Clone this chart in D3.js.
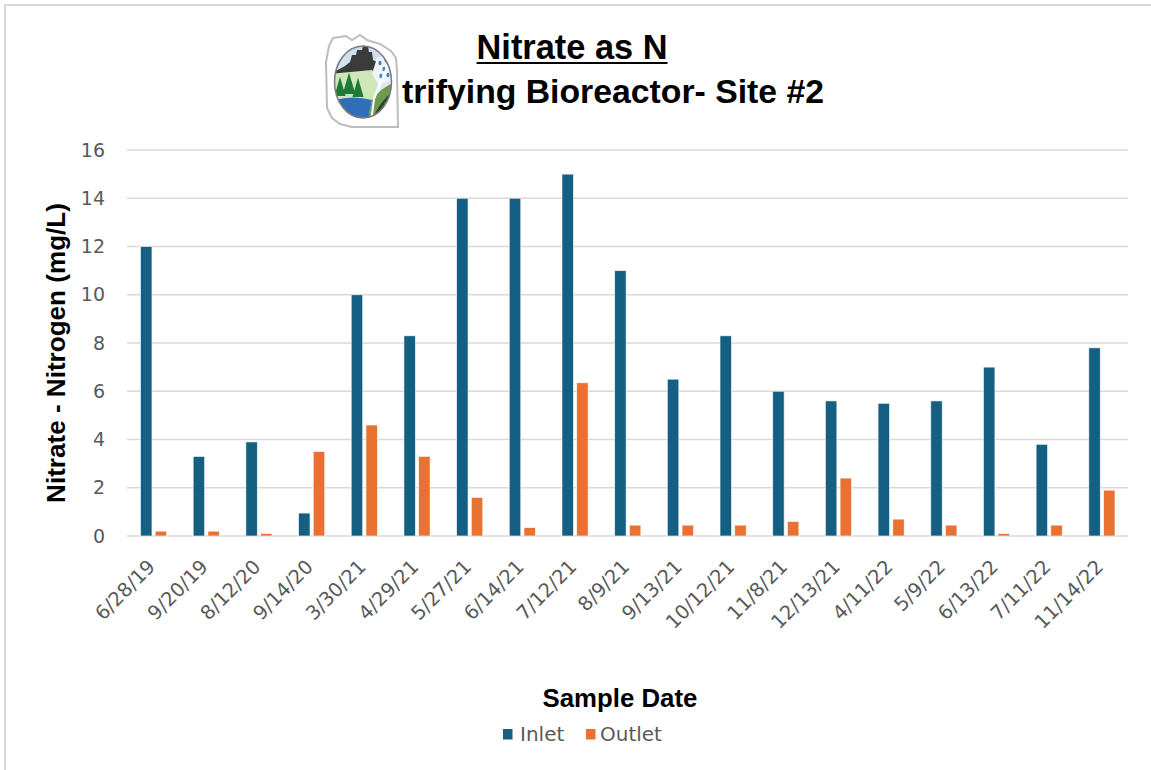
<!DOCTYPE html>
<html><head><meta charset="utf-8">
<script src="https://cdn.jsdelivr.net/npm/d3@7"></script>
<style>html,body{margin:0;padding:0;background:#fff;}svg{display:block;}</style>
</head><body>
<svg id="chart" width="1151" height="770"></svg>
<script>
// ---- data ----
const dates = ["6/28/19","9/20/19","8/12/20","9/14/20","3/30/21","4/29/21","5/27/21","6/14/21","7/12/21","8/9/21","9/13/21","10/12/21","11/8/21","12/13/21","4/11/22","5/9/22","6/13/22","7/11/22","11/14/22"];
const inlet  = [12, 3.3, 3.9, 0.95, 10, 8.3, 14, 14, 15, 11, 6.5, 8.3, 6, 5.6, 5.5, 5.6, 7, 3.8, 7.8];
const outlet = [0.2, 0.2, 0.1, 3.5, 4.6, 3.3, 1.6, 0.35, 6.35, 0.45, 0.45, 0.45, 0.6, 2.4, 0.7, 0.45, 0.1, 0.45, 1.9];
const seriesNames = ["Inlet", "Outlet"];
const yTicks = [0, 2, 4, 6, 8, 10, 12, 14, 16];
const titleLine1 = "Nitrate as N";
const titleLine2Hidden = "Deni";
const titleLine2 = "trifying Bioreactor- Site #2";
const yAxisTitle = "Nitrate - Nitrogen (mg/L)";
const xAxisTitle = "Sample Date";

const colors = {Inlet: "#156082", Outlet: "#E97132"};
const FONT = "'Liberation Sans', Arial, sans-serif";
const TFONT = "'DejaVu Sans', sans-serif";
const GRAY = "#595959";

const svg = d3.select("#chart");
svg.append("rect").attr("width", 1151).attr("height", 770).attr("fill", "#fff");
// chart border
svg.append("path").attr("d", "M5,770 L5,5 L1151,5").attr("fill", "none")
  .attr("stroke", "#d9d9d9").attr("stroke-width", 2);

const x = d3.scaleBand().domain(dates).range([127, 1128]).paddingInner(0).paddingOuter(0);
const bw = x.bandwidth();
const xi = d3.scaleBand().domain(seriesNames).range([bw * 0.256, bw * 0.753]).paddingInner(0.22);
const y = d3.scaleLinear().domain([0, 16]).range([536, 150]);

// gridlines
svg.append("g").selectAll("line").data(yTicks).join("line")
  .attr("x1", 127).attr("x2", 1128)
  .attr("y1", d => y(d)).attr("y2", d => y(d))
  .attr("stroke", "#d9d9d9").attr("stroke-width", 1.6);

// y tick labels via axis
const yAxis = svg.append("g").attr("transform", "translate(127,0)")
  .call(d3.axisLeft(y).tickValues(yTicks).tickSize(0).tickPadding(22));
yAxis.select(".domain").remove();
yAxis.selectAll("text").attr("fill", GRAY).attr("font-family", TFONT).attr("font-size", 19);

// bars
const rows = dates.map((d, i) => ({date: d, Inlet: inlet[i], Outlet: outlet[i]}));
const groups = svg.append("g").selectAll("g").data(rows).join("g")
  .attr("transform", d => `translate(${x(d.date)},0)`);
groups.selectAll("rect").data(d => seriesNames.map(s => ({s, v: d[s]}))).join("rect")
  .attr("x", d => xi(d.s)).attr("width", xi.bandwidth())
  .attr("y", d => y(d.v)).attr("height", d => y(0) - y(d.v))
  .attr("fill", d => colors[d.s])
  .attr("stroke", "rgba(255,255,255,0.75)").attr("stroke-width", 0.8);

// x tick labels
const xAxis = svg.append("g").attr("transform", "translate(0,536)")
  .call(d3.axisBottom(x).tickSize(0).tickPadding(0));
xAxis.select(".domain").remove();
xAxis.selectAll("text")
  .attr("fill", GRAY).attr("font-family", TFONT).attr("font-size", 19.5)
  .attr("text-anchor", "end").attr("dy", 0).attr("y", 0)
  .attr("transform", "translate(3,32) rotate(-45)");

function fit(sel, target) {
  const w = sel.node().getComputedTextLength();
  const fs = parseFloat(sel.attr("font-size"));
  sel.attr("font-size", fs * target / w);
}

// axis titles
const yt = svg.append("text").text(yAxisTitle)
  .attr("font-family", FONT).attr("font-weight", "bold").attr("font-size", 20).attr("fill", "#000")
  .attr("text-anchor", "middle").attr("transform", "translate(65,353) rotate(-90)");
fit(yt, 300);

const xt = svg.append("text").text(xAxisTitle)
  .attr("x", 620).attr("y", 707)
  .attr("font-family", FONT).attr("font-weight", "bold").attr("font-size", 20).attr("fill", "#000")
  .attr("text-anchor", "middle");
fit(xt, 155);

// legend
const legX = [503, 586];
const legT = [520, 600];
const leg = svg.append("g").selectAll("g").data(seriesNames).join("g");
leg.append("rect").attr("x", (d, i) => legX[i]).attr("y", 729).attr("width", 9.5).attr("height", 10.5).attr("fill", d => colors[d]);
leg.append("text").text(d => d).attr("x", (d, i) => legT[i]).attr("y", 741)
  .attr("font-family", TFONT).attr("font-size", 20).attr("fill", GRAY);

// titles
const t1 = svg.append("text").text(titleLine1)
  .attr("x", 572).attr("y", 59).attr("text-anchor", "middle")
  .attr("font-family", FONT).attr("font-weight", "bold").attr("font-size", 30).attr("fill", "#000");
fit(t1, 191);
const t1w = t1.node().getComputedTextLength();
svg.append("line").attr("x1", 572 - t1w / 2).attr("x2", 572 + t1w / 2)
  .attr("y1", 63).attr("y2", 63).attr("stroke", "#000").attr("stroke-width", 2.2);

const t2 = svg.append("text").text(titleLine2)
  .attr("x", 402).attr("y", 103)
  .attr("font-family", FONT).attr("font-weight", "bold").attr("font-size", 30).attr("fill", "#000");
fit(t2, 422);
svg.append("text").text(titleLine2Hidden)
  .attr("x", 400).attr("y", 103).attr("text-anchor", "end")
  .attr("font-family", FONT).attr("font-weight", "bold").attr("font-size", t2.attr("font-size")).attr("fill", "#000");

// logo (drawn over the start of the title)
const logo = svg.append("g");
logo.append("rect").attr("x", 322).attr("y", 70).attr("width", 78.5).attr("height", 45).attr("fill", "#fff");
logo.append("path")
  .attr("d", "M333,38 L346,36 L352,40 L360,35 L367,40 L380,44 L391,51 L396,58 L397,72 L398,127 L352,127 L340,124 L332,118 L327,108 L326,62 L329,46 Z")
  .attr("fill", "#fff").attr("stroke", "#bdbdbd").attr("stroke-width", 2);
const defs = svg.append("defs");
defs.append("clipPath").attr("id", "oval").append("ellipse")
  .attr("cx", 363).attr("cy", 82).attr("rx", 28.5).attr("ry", 36);
const sky = defs.append("linearGradient").attr("id", "sky").attr("x1", 0).attr("y1", 0).attr("x2", 0).attr("y2", 1);
sky.append("stop").attr("offset", 0).attr("stop-color", "#c9d9ea");
sky.append("stop").attr("offset", 1).attr("stop-color", "#f4f7fb");
const lg = logo.append("g").attr("clip-path", "url(#oval)");
lg.append("rect").attr("x", 330).attr("y", 40).attr("width", 70).attr("height", 90).attr("fill", "url(#sky)");
// dark skyline
lg.append("path").attr("d", "M334,72 L345,66 L350,62 L352,55 L356,55 L357,50 L362,50 L363,46 L368,46 L369,52 L372,52 L373,60 L377,62 L378,70 L372,74 L334,78 Z").attr("fill", "#3b3b3b");
// light green field
lg.append("path").attr("d", "M330,74 L372,70 L380,78 L372,100 L330,100 Z").attr("fill", "#cfe6b8");
// trees
[[340,96,8],[349,94,9],[358,97,8]].forEach(([cx, by, h]) => {
  lg.append("path").attr("d", `M${cx},${by - h * 2.4} L${cx + h * 0.7},${by} L${cx - h * 0.7},${by} Z`).attr("fill", "#1f7a3a");
});
// raindrops area
lg.append("path").attr("d", "M377,58 L394,52 L394,80 L378,84 L372,74 Z").attr("fill", "#eef4fa");
[[380,63],[386,60],[384,69],[390,67],[381,76],[388,75]].forEach(([cx, cy]) => {
  lg.append("ellipse").attr("cx", cx).attr("cy", cy).attr("rx", 1.6).attr("ry", 2.2).attr("fill", "#3a86c8");
});
// lake
lg.append("path").attr("d", "M330,102 Q350,94 372,100 L366,130 L330,130 Z").attr("fill", "#2f6fb7");
// striped fields
lg.append("path").attr("d", "M372,100 Q382,86 396,82 L396,130 L366,130 Z").attr("fill", "#6e9a52");
[0,1,2,3,4,5,6].forEach(k => {
  lg.append("path").attr("d", `M${368 + k * 2},${130 - k * 1} Q${380 + k},${100 - k * 4} ${396},${90 + k * 5}`)
    .attr("fill", "none").attr("stroke", "#2b4a22").attr("stroke-width", 1.2);
});
// white divider
lg.append("path").attr("d", "M370,130 L374,99 L392,55").attr("fill", "none").attr("stroke", "#fff").attr("stroke-width", 2);
logo.append("ellipse").attr("cx", 363).attr("cy", 82).attr("rx", 28.5).attr("ry", 36)
  .attr("fill", "none").attr("stroke", "#7a7a7a").attr("stroke-width", 1.5);
</script>
</body></html>
